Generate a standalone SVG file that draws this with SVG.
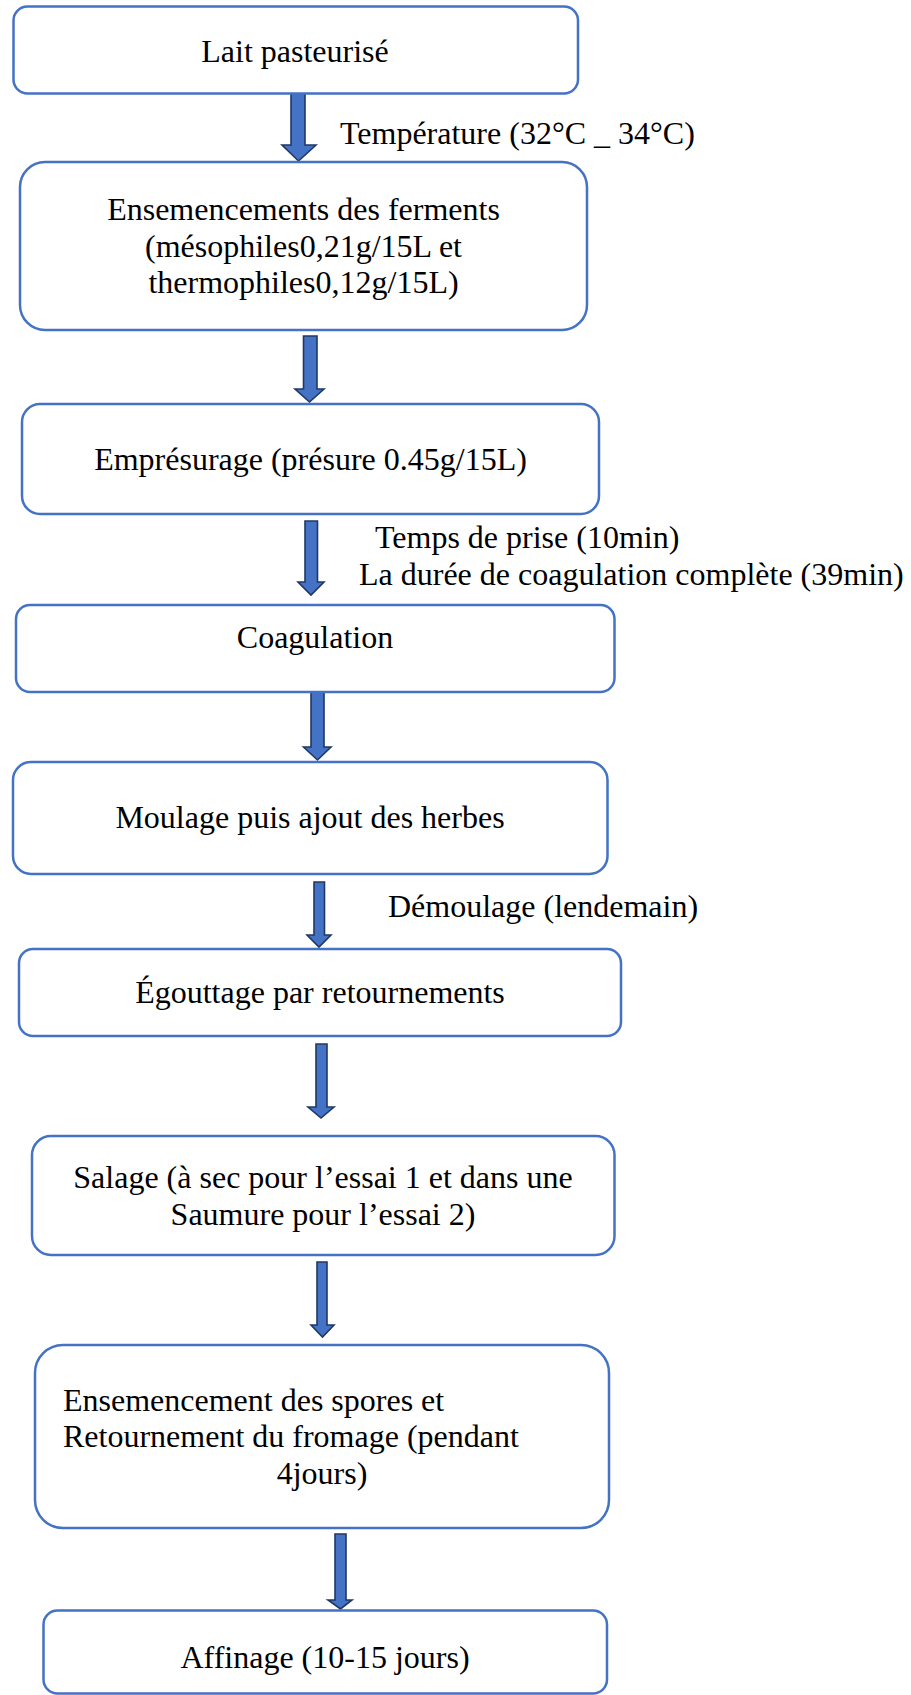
<svg xmlns="http://www.w3.org/2000/svg" width="911" height="1695" viewBox="0 0 911 1695">
<style>
.box{fill:#ffffff;stroke:#4472C4;stroke-width:2.5}
.arr{fill:#4472C4;stroke:#203864;stroke-width:1.6;stroke-linejoin:miter}
text{font-family:"Liberation Serif","Times New Roman",serif;font-size:32px;fill:#000000}
.c{text-anchor:middle}
</style>
<rect width="911" height="1695" fill="#ffffff"/>
<g id="connectors">
<path class="arr" d="M291,92 H305 V145 H316 L298.5,161 L282,145 H291 Z"/>
<path class="arr" d="M303.5,336 H317 V389 H324 L309.5,402 L295,389 H303.5 Z"/>
<path class="arr" d="M305,521 H317.5 V582 H324 L311,595 L298,582 H305 Z"/>
<path class="arr" d="M311,692 H324 V747 H331 L317.5,760 L303.5,747 H311 Z"/>
<path class="arr" d="M314,882 H324.5 V935 H331 L319,947 L307,935 H314 Z"/>
<path class="arr" d="M316,1044 H327 V1107 H334 L321,1118 L308,1107 H316 Z"/>
<path class="arr" d="M317,1262 H327 V1325 H334 L322.5,1337 L311,1325 H317 Z"/>
<path class="arr" d="M335,1534 H346 V1600 H352 L340.5,1609 L328,1600 H335 Z"/>
<text x="340" y="144">Température (32°C _ 34°C)</text>
<text x="375" y="548">Temps de prise (10min)</text>
<text x="359" y="585">La durée de coagulation complète (39min)</text>
<text x="388" y="917">Démoulage (lendemain)</text>
</g>
<g id="n1"><rect class="box" x="13.5" y="6.5" width="564.5" height="87" rx="14"/><text class="c" x="295" y="62">Lait pasteurisé</text></g>
<g id="n2"><rect class="box" x="20" y="162" width="567" height="168" rx="25"/><text class="c" x="303.5" y="220">Ensemencements des ferments</text><text class="c" x="303.5" y="256.5">(mésophiles0,21g/15L et</text><text class="c" x="303.5" y="292.5">thermophiles0,12g/15L)</text></g>
<g id="n3"><rect class="box" x="22" y="404" width="577" height="110" rx="18"/><text class="c" x="310.5" y="470">Emprésurage (présure 0.45g/15L)</text></g>
<g id="n4"><rect class="box" x="16" y="605" width="598.5" height="87" rx="14"/><text class="c" x="315" y="648">Coagulation</text></g>
<g id="n5"><rect class="box" x="13" y="762" width="594.5" height="112" rx="18"/><text class="c" x="310" y="828">Moulage puis ajout des herbes</text></g>
<g id="n6"><rect class="box" x="19" y="949" width="602" height="87" rx="14"/><text class="c" x="320" y="1003">Égouttage par retournements</text></g>
<g id="n7"><rect class="box" x="32" y="1136" width="582.5" height="119" rx="19"/><text class="c" x="323" y="1188">Salage (à sec pour l’essai 1 et dans une</text><text class="c" x="323" y="1225">Saumure pour l’essai 2)</text></g>
<g id="n8"><rect class="box" x="35" y="1345" width="574" height="183" rx="28"/><text x="63" y="1411">Ensemencement des spores et</text><text x="63" y="1447">Retournement du fromage (pendant</text><text class="c" x="322" y="1484">4jours)</text></g>
<g id="n9"><rect class="box" x="43.5" y="1610.5" width="563.5" height="83" rx="14"/><text class="c" x="325" y="1668">Affinage (10-15 jours)</text></g>
</svg>
